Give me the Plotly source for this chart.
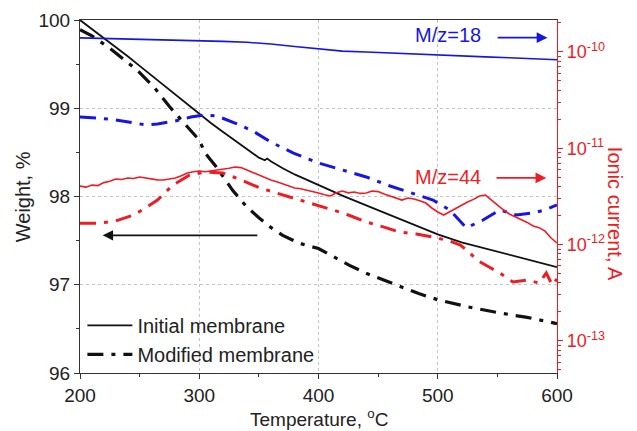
import plotly.graph_objects as go

# ---- Weight (left axis, %) ----
T_INIT = [200, 210, 220, 230, 240, 250, 260, 270, 280, 290, 300, 310, 320, 330, 340, 350, 355, 357,
          360, 370, 380, 390, 400, 420, 440, 460, 480, 500, 520, 540, 560, 580, 600]
W_INIT = [100.0, 99.90, 99.80, 99.70, 99.59, 99.48, 99.37, 99.26, 99.15, 99.04, 98.93, 98.83, 98.73,
          98.63, 98.53, 98.44, 98.41, 98.43, 98.40, 98.32, 98.25, 98.19, 98.13, 98.01, 97.90, 97.79,
          97.68, 97.57, 97.48, 97.41, 97.34, 97.27, 97.20]

T_MOD = [200, 210, 225, 248, 262, 275, 290, 300, 305, 314, 328, 340, 350, 360, 370, 384, 400, 412,
         426, 440, 455, 468, 484, 500, 525, 552, 575, 600]
W_MOD = [99.89, 99.82, 99.68, 99.43, 99.24, 99.02, 98.79, 98.64, 98.49, 98.34, 98.07, 97.88, 97.76,
         97.65, 97.56, 97.47, 97.41, 97.32, 97.22, 97.13, 97.05, 96.98, 96.90, 96.83, 96.75, 96.68,
         96.63, 96.56]

# ---- Ionic current (right axis, A) ----
T_B18 = [200, 220, 240, 260, 280, 300, 320, 340, 360, 380, 400, 420, 440, 460, 480, 500, 520, 540,
         560, 580, 600]
I_B18 = [1.40e-10, 1.38e-10, 1.37e-10, 1.35e-10, 1.34e-10, 1.31e-10, 1.29e-10, 1.26e-10, 1.21e-10,
         1.14e-10, 1.07e-10, 1.02e-10, 1.00e-10, 9.8e-11, 9.5e-11, 9.35e-11, 9.1e-11, 8.9e-11,
         8.7e-11, 8.5e-11, 8.3e-11]

T_B18M = [200, 215, 230, 245, 255, 265, 280, 293, 305, 315, 330, 345, 360, 379, 400, 420, 440, 460,
          480, 496, 510, 518, 524, 531, 538, 552, 566, 580, 590, 600]
I_B18M = [2.11e-11, 2.06e-11, 1.97e-11, 1.83e-11, 1.75e-11, 1.79e-11, 1.92e-11, 2.11e-11, 2.22e-11,
          2.16e-11, 1.83e-11, 1.51e-11, 1.16e-11, 8.93e-12, 7.03e-12, 5.95e-12, 5.04e-12, 4.06e-12,
          3.35e-12, 2.90e-12, 2.29e-12, 1.80e-12, 1.49e-12, 1.64e-12, 1.80e-12, 2.29e-12, 2.03e-12,
          2.13e-12, 2.29e-12, 2.58e-12]

T_R44 = [200, 205, 210, 215, 220, 225, 230, 235, 240, 245, 250, 255, 260, 265, 270, 275, 280, 285,
         290, 295, 300, 305, 310, 315, 320, 325, 330, 335, 340, 345, 350, 355, 360, 365, 370, 375,
         380, 385, 390, 395, 400, 405, 410, 415, 420, 425, 430, 435, 440, 445, 450, 455, 460, 465,
         470, 475, 480, 485, 490, 495, 500, 505, 510, 515, 520, 525, 530, 535, 540, 545, 550, 555,
         560, 565, 570, 575, 580, 585, 590, 595, 600]
I_R44 = [4.05e-12, 3.95e-12, 4.15e-12, 4.10e-12, 4.40e-12, 4.55e-12, 4.80e-12, 4.75e-12, 4.92e-12,
         4.85e-12, 5.04e-12, 4.90e-12, 4.80e-12, 4.70e-12, 4.69e-12, 4.80e-12, 4.92e-12, 5.20e-12,
         5.54e-12, 5.70e-12, 5.81e-12, 5.70e-12, 5.81e-12, 5.95e-12, 6.10e-12, 6.20e-12, 6.40e-12,
         6.30e-12, 5.95e-12, 5.60e-12, 5.28e-12, 5.00e-12, 4.69e-12, 4.50e-12, 4.26e-12, 4.05e-12,
         3.87e-12, 3.80e-12, 3.69e-12, 3.55e-12, 3.43e-12, 3.30e-12, 3.20e-12, 3.45e-12, 3.60e-12,
         3.45e-12, 3.52e-12, 3.40e-12, 3.43e-12, 3.60e-12, 3.55e-12, 3.35e-12, 3.20e-12, 3.05e-12,
         2.90e-12, 3.05e-12, 2.98e-12, 2.85e-12, 2.70e-12, 2.40e-12, 2.18e-12, 2.03e-12, 2.20e-12,
         2.40e-12, 2.55e-12, 2.77e-12, 2.95e-12, 3.20e-12, 3.27e-12, 2.90e-12, 2.58e-12, 2.30e-12,
         2.08e-12, 1.95e-12, 1.80e-12, 1.70e-12, 1.56e-12, 1.50e-12, 1.38e-12, 1.17e-12, 1.04e-12]

T_R44M = [200, 215, 230, 245, 255, 265, 278, 292, 305, 320, 335, 351, 365, 379, 395, 412, 425, 440,
          455, 468, 482, 496, 510, 519, 526, 533, 543, 552, 563, 575, 585, 591, 596, 600]
I_R44M = [1.67e-12, 1.67e-12, 1.76e-12, 2.03e-12, 2.40e-12, 2.90e-12, 4.16e-12, 5.28e-12, 5.68e-12,
          5.54e-12, 4.69e-12, 3.87e-12, 3.43e-12, 3.05e-12, 2.64e-12, 2.29e-12, 2.03e-12, 1.72e-12,
          1.52e-12, 1.35e-12, 1.29e-12, 1.20e-12, 1.09e-12, 0.99e-12, 0.84e-12, 0.69e-12, 0.585e-12,
          0.507e-12, 0.409e-12, 0.429e-12, 0.399e-12, 0.507e-12, 0.380e-12, 0.440e-12]

X_TICKS = [200, 300, 400, 500, 600]
Y_TICKS = [96, 97, 98, 99, 100]
Y2_TICKVALS = [1e-13, 1e-12, 1e-11, 1e-10]
Y2_TICKTEXT = ["10<sup>-13</sup>", "10<sup>-12</sup>", "10<sup>-11</sup>", "10<sup>-10</sup>"]
Y2_MINOR = [m * 10.0 ** e for e in (-14, -13, -12, -11, -10) for m in (2, 3, 4, 5, 6, 7, 8, 9)]

BLUE = "#1616e0"
RED = "#ee1c24"
BLACK = "#111111"
FONT = "Liberation Sans, Arial, sans-serif"
DASHDOT = "16px,8px,4px,8px"

fig = go.Figure()

fig.add_trace(go.Scatter(x=T_B18, y=I_B18, mode="lines", yaxis="y2", showlegend=False,
                         line=dict(color=BLUE, width=1.6)))
fig.add_trace(go.Scatter(x=T_B18M, y=I_B18M, mode="lines", yaxis="y2", showlegend=False,
                         line=dict(color=BLUE, width=3, dash=DASHDOT)))
fig.add_trace(go.Scatter(x=T_R44, y=I_R44, mode="lines", yaxis="y2", showlegend=False,
                         line=dict(color=RED, width=1.6)))
fig.add_trace(go.Scatter(x=T_R44M, y=I_R44M, mode="lines", yaxis="y2", showlegend=False,
                         line=dict(color=RED, width=3, dash=DASHDOT)))
fig.add_trace(go.Scatter(x=T_INIT, y=W_INIT, mode="lines", name="Initial membrane",
                         line=dict(color=BLACK, width=1.8)))
fig.add_trace(go.Scatter(x=T_MOD, y=W_MOD, mode="lines", name="Modified membrane",
                         line=dict(color=BLACK, width=3.2, dash=DASHDOT)))

fig.update_layout(
    width=637, height=431,
    margin=dict(l=80, r=80, t=20, b=58),
    paper_bgcolor="white", plot_bgcolor="white",
    font=dict(family=FONT, size=19, color="#222222"),
    legend=dict(x=0.005, y=0.19, xanchor="left", yanchor="top", bgcolor="rgba(0,0,0,0)",
                font=dict(size=20, color="#222222"), tracegroupgap=0, itemwidth=45),
    xaxis=dict(range=[200, 600], tickvals=X_TICKS, ticks="outside", ticklen=5, tickcolor="#333",
               showline=True, linecolor="#333", linewidth=1.2, mirror=True, automargin=False,
               showgrid=True, gridcolor="#c4c4c4", griddash="dot", gridwidth=1,
               minor=dict(dtick=50, ticks="outside", ticklen=3, tickcolor="#333", showgrid=False),
               zeroline=False),
    yaxis=dict(range=[96, 100], tickvals=Y_TICKS, ticks="outside", ticklen=5, tickcolor="#333",
               showline=True, linecolor="#333", linewidth=1.2, automargin=False,
               showgrid=True, gridcolor="#c4c4c4", griddash="dot", gridwidth=1,
               minor=dict(dtick=0.5, ticks="outside", ticklen=3, tickcolor="#333", showgrid=False),
               zeroline=False),
    yaxis2=dict(type="log", range=[-13.333, -9.668], overlaying="y", side="right",
                tickvals=Y2_TICKVALS, ticktext=Y2_TICKTEXT, ticks="outside", ticklen=5,
                tickcolor=RED, tickfont=dict(color=RED, size=18), automargin=False,
                showline=True, linecolor=RED, linewidth=1.2, showgrid=False,
                minor=dict(tickvals=Y2_MINOR, ticks="outside", ticklen=3, tickcolor=RED,
                           showgrid=False),
                zeroline=False),
)

# Annotations
fig.add_annotation(x=509, y=99.83, xref="x", yref="y", text="M/z=18", showarrow=False,
                   font=dict(color=BLUE, size=20))
fig.add_annotation(x=592, y=99.80, xref="x", yref="y", ax=549, ay=99.80, axref="x", ayref="y",
                   text="", showarrow=True, arrowhead=2, arrowsize=1.2, arrowwidth=1.8,
                   arrowcolor=BLUE)
fig.add_annotation(x=509, y=98.22, xref="x", yref="y", text="M/z=44", showarrow=False,
                   font=dict(color=RED, size=20))
fig.add_annotation(x=591, y=98.21, xref="x", yref="y", ax=548, ay=98.21, axref="x", ayref="y",
                   text="", showarrow=True, arrowhead=2, arrowsize=1.2, arrowwidth=1.8,
                   arrowcolor=RED)
fig.add_annotation(x=219, y=97.56, xref="x", yref="y", ax=350, ay=97.56, axref="x", ayref="y",
                   text="", showarrow=True, arrowhead=2, arrowsize=1.3, arrowwidth=1.6,
                   arrowcolor=BLACK)
fig.add_annotation(x=-0.12, y=0.5, xref="paper", yref="paper", xanchor="center",
                   text="Weight, %", textangle=-90, showarrow=False,
                   font=dict(color="#222222", size=20))
fig.add_annotation(x=1.095, y=0.45, xref="paper", yref="paper", xanchor="left",
                   text="Ionic current, A", textangle=90, showarrow=False,
                   font=dict(color=RED, size=20))
fig.add_annotation(x=0.5, y=-0.128, xref="paper", yref="paper", yanchor="middle",
                   text="Temperature, <sup>o</sup>C", showarrow=False,
                   font=dict(color="#222222", size=19))

fig.write_html("out.html")
